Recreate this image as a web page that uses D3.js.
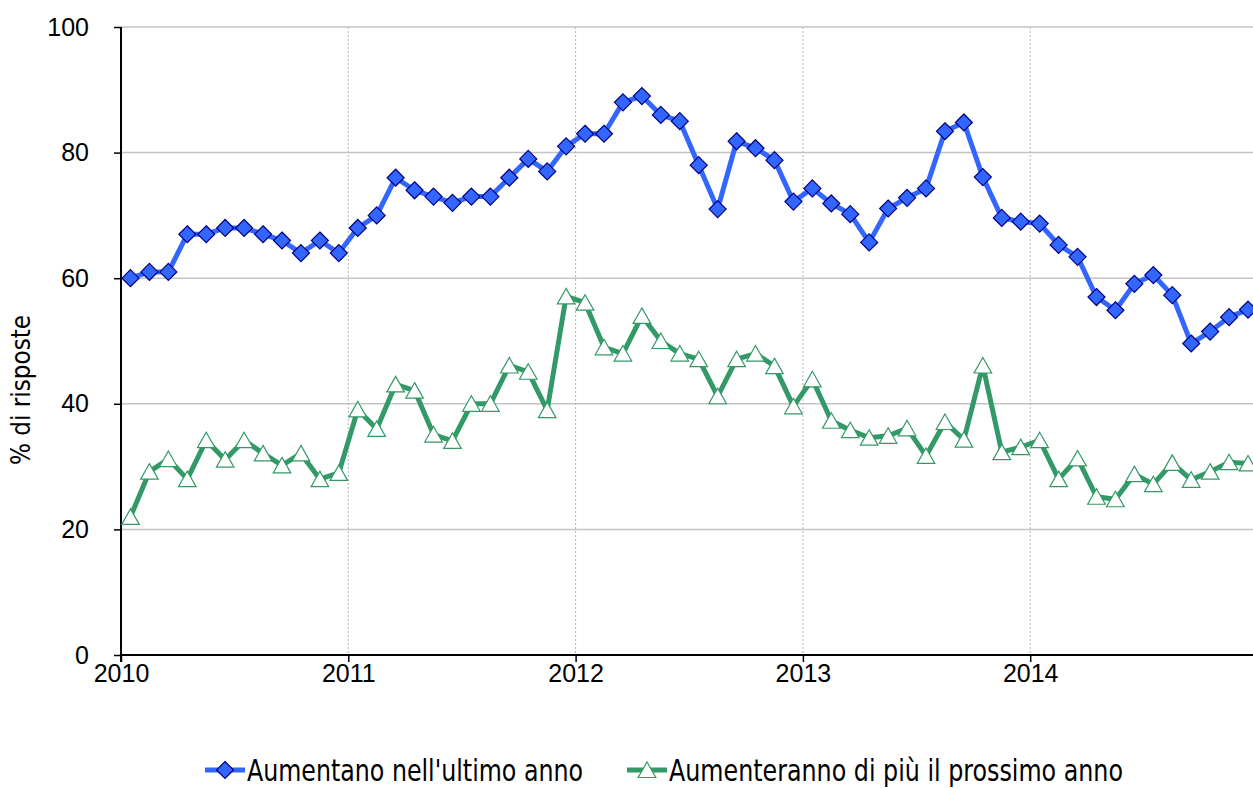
<!DOCTYPE html>
<html>
<head>
<meta charset="utf-8">
<script src="https://cdn.jsdelivr.net/npm/d3@7"></script>
<style>
    body { margin: 0; background: #fff; }
    svg { display: block; }
</style>
</head>
<body>
<script>
(function () {

//pseudo-global data
    var years = ["2010", "2011", "2012", "2013", "2014"]; //tick labels on x axis
    var yTicks = [0, 20, 40, 60, 80, 100]; //tick labels on y axis
    var seriesNames = ["Aumentano nell'ultimo anno", "Aumenteranno di più il prossimo anno"];

    //monthly values, Jan 2010 .. Dec 2014
    var aumentano = [
        60, 61, 61, 67, 67, 68, 68, 67, 66, 64, 66, 64,
        68, 70, 76, 74, 73, 72, 73, 73, 76, 79, 77, 81,
        83, 83, 88, 89, 86, 85, 78, 71, 81.8, 80.7, 78.8, 72.2,
        74.3, 71.9, 70.2, 65.7, 71.1, 72.8, 74.3, 83.4, 84.8, 76.1, 69.6, 69.0,
        68.7, 65.3, 63.4, 57.0, 54.9, 59.1, 60.5, 57.3, 49.6, 51.5, 53.8, 55.0
    ];
    var aumenteranno = [
        22.0, 29.2, 31.2, 28.0, 34.2, 31.1, 34.2, 32.1, 30.2, 32.1, 28.0, 29.0,
        39.1, 36.0, 43.1, 42.1, 35.1, 34.1, 40.0, 40.0, 46.1, 45.1, 39.0, 57.1,
        56.1, 49.0, 48.0, 54.0, 50.0, 48.0, 47.1, 41.2, 47.1, 48.0, 46.0, 39.6,
        43.9, 37.3, 35.8, 34.6, 34.9, 36.1, 31.7, 37.1, 34.3, 46.1, 32.3, 33.1,
        34.2, 28.0, 31.3, 25.2, 24.8, 28.8, 27.2, 30.6, 27.9, 29.2, 30.7, 30.5
    ];

    var width = 1253,
        height = 788;

    var blue = "#3366ff",
        blueEdge = "#000080",
        green = "#339966";

    var svg = d3.select("body")
        .append("svg")
        .attr("width", width)
        .attr("height", height);

    //x runs on month index, one unit = one month
    var xScale = d3.scaleLinear()
        .domain([0, 60])
        .range([121, 1257.5]);

    var yScale = d3.scaleLinear()
        .domain([0, 100])
        .range([655, 27]);

    //horizontal gridlines
    svg.selectAll(".hgrid")
        .data(yTicks.filter(function (d) { return d > 0; }))
        .enter()
        .append("line")
        .attr("class", "hgrid")
        .attr("x1", xScale(0))
        .attr("x2", width)
        .attr("y1", function (d) { return yScale(d); })
        .attr("y2", function (d) { return yScale(d); })
        .style("stroke", "#c4c4c4")
        .style("stroke-width", 1.5);

    //vertical dotted gridlines at each year
    svg.selectAll(".vgrid")
        .data(years.slice(1))
        .enter()
        .append("line")
        .attr("class", "vgrid")
        .attr("x1", function (d, i) { return xScale((i + 1) * 12); })
        .attr("x2", function (d, i) { return xScale((i + 1) * 12); })
        .attr("y1", yScale(100))
        .attr("y2", yScale(0))
        .style("stroke", "#b4b4b4")
        .style("stroke-width", 1)
        .style("stroke-dasharray", "2,2");

    //y axis
    var yAxis = d3.axisLeft(yScale)
        .tickValues(yTicks)
        .tickSize(7)
        .tickPadding(25);

    var yg = svg.append("g")
        .attr("transform", "translate(" + xScale(0) + ",0)")
        .call(yAxis);
    yg.select(".domain").attr("d", "M0," + yScale(100) + "V" + (yScale(0) + 7))
        .style("stroke", "#000").style("stroke-width", 2);
    yg.selectAll(".tick line").style("stroke", "#000").style("stroke-width", 1.5);
    yg.selectAll(".tick text")
        .style("font-family", "'Liberation Sans', Arial, sans-serif")
        .style("font-size", "25px")
        .style("fill", "#000");

    //x axis with year labels
    var xAxis = d3.axisBottom(xScale)
        .tickValues(years.map(function (d, i) { return i * 12; }))
        .tickFormat(function (d, i) { return years[i]; })
        .tickSize(7)
        .tickPadding(2);

    var xg = svg.append("g")
        .attr("transform", "translate(0," + yScale(0) + ")")
        .call(xAxis);
    xg.select(".domain").attr("d", "M" + xScale(0) + ",0H" + width)
        .style("stroke", "#000").style("stroke-width", 2);
    xg.selectAll(".tick line").style("stroke", "#000").style("stroke-width", 1.5);
    xg.selectAll(".tick text")
        .style("font-family", "'Liberation Sans', Arial, sans-serif")
        .style("font-size", "25px")
        .style("fill", "#000");

    //y axis title
    svg.append("text")
        .attr("transform", "translate(30,390) rotate(-90)")
        .attr("text-anchor", "middle")
        .attr("textLength", 150)
        .attr("lengthAdjust", "spacingAndGlyphs")
        .style("font-family", "'Liberation Sans Narrow', 'DejaVu Sans Condensed', sans-serif")
        .style("font-size", "27px")
        .text("% di risposte");

    //line generator, points sit in the middle of each month
    var line = d3.line()
        .x(function (d, i) { return xScale(i + 0.5); })
        .y(function (d) { return yScale(d); });

    var diamond = "M0,-8.5L8.5,0L0,8.5L-8.5,0Z";
    var triangle = "M0,-8L8.8,7.5L-8.8,7.5Z";

    //blue series
    svg.append("path")
        .datum(aumentano)
        .attr("d", line)
        .style("fill", "none")
        .style("stroke", blue)
        .style("stroke-width", 5)
        .style("stroke-linejoin", "round");

    //green series
    svg.append("path")
        .datum(aumenteranno)
        .attr("d", line)
        .style("fill", "none")
        .style("stroke", green)
        .style("stroke-width", 5)
        .style("stroke-linejoin", "round");

    svg.selectAll(".dia")
        .data(aumentano)
        .enter()
        .append("path")
        .attr("class", "dia")
        .attr("d", diamond)
        .attr("transform", function (d, i) {
            return "translate(" + xScale(i + 0.5) + "," + yScale(d) + ")";
        })
        .style("fill", blue)
        .style("stroke", blueEdge)
        .style("stroke-width", 1.2);

    svg.selectAll(".tri")
        .data(aumenteranno)
        .enter()
        .append("path")
        .attr("class", "tri")
        .attr("d", triangle)
        .attr("transform", function (d, i) {
            return "translate(" + xScale(i + 0.5) + "," + yScale(d) + ")";
        })
        .style("fill", "#fff")
        .style("stroke", green)
        .style("stroke-width", 1.2);

    //legend
    var legendItems = [
        {name: seriesNames[0], x: 205, len: 336, color: blue, mark: diamond, fill: blue, edge: blueEdge},
        {name: seriesNames[1], x: 627, len: 454, color: green, mark: triangle, fill: "#fff", edge: green}
    ];

    var legend = svg.selectAll(".legend")
        .data(legendItems)
        .enter()
        .append("g")
        .attr("class", "legend")
        .attr("transform", function (d) { return "translate(" + d.x + ",770)"; });

    legend.append("line")
        .attr("x1", 0)
        .attr("x2", 40)
        .style("stroke", function (d) { return d.color; })
        .style("stroke-width", 5);

    legend.append("path")
        .attr("d", function (d) { return d.mark; })
        .attr("transform", "translate(20,0)")
        .style("fill", function (d) { return d.fill; })
        .style("stroke", function (d) { return d.edge; })
        .style("stroke-width", 1.2);

    legend.append("text")
        .attr("x", 42)
        .attr("y", 11)
        .attr("textLength", function (d) { return d.len; })
        .attr("lengthAdjust", "spacingAndGlyphs")
        .style("font-family", "'Liberation Sans Narrow', 'DejaVu Sans Condensed', sans-serif")
        .style("font-size", "31px")
        .text(function (d) { return d.name; });

})();
</script>
</body>
</html>
